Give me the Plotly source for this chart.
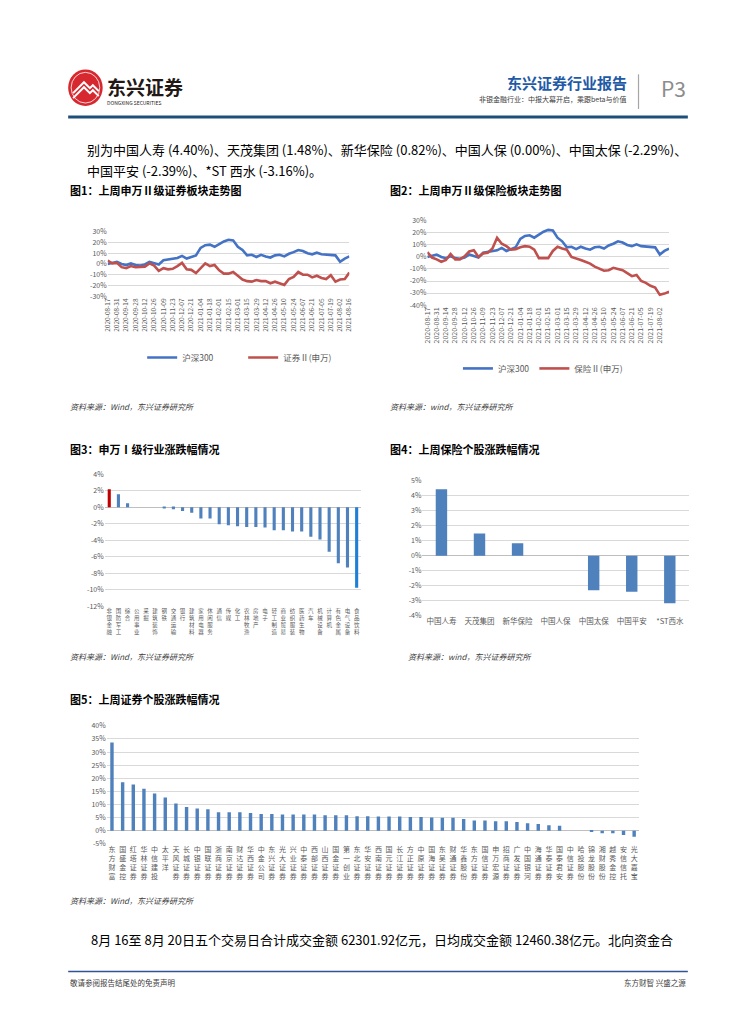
import plotly.graph_objects as go
import pandas as pd

W, H = 755, 1024
FONT = "Noto Sans CJK SC"
BLUE = "#4472C4"
RED = "#C0504D"
BAR = "#4F81BD"
GRID = "#D9D9D9"
TICK = "#595959"

# ---------------- data ----------------
# weekly closes, cumulative change (%) since 2020-08-17
hs300 = [0, 1, 2, 0, -1, 0.5, -1, -1.5, -0.5, 2,
         1, -0.5, 3.5, 4, 5, 5.5, 7.5, 5, 6.5, 8,
         15, 17.5, 18, 16, 18.5, 21, 22.5, 22, 16, 13,
         8, 8.5, 6.5, 8.5, 7, 6, 8, 8.5, 7, 9.5,
         11, 13, 12, 10, 9, 10.5, 9, 8.5, 8.5, 8,
         2, 5, 7]
sec2 = [3, 0.5, 1, -3, -4, -2, -3, -3, -2.5, 0.5,
        -1.5, -6.5, -4, -5, -4.5, -2, 1, -5, -5.5, -8.5,
        -4, 0.5, -2, -1, -6, -9, -9, -7.5, -11, -14.5,
        -16, -16.5, -15, -16, -16, -18, -16.5, -18, -19.5, -14,
        -12, -7.5, -10, -10, -12.5, -11, -13, -14, -10.5, -16.5,
        -14.5, -14, -8]
ins2 = [4, -0.5, -2, -4, -2.5, 2.5, -2, -2, 0.5, 4.5,
        5.5, 0, 3, 3.5, 7, 16, 11, 9, 6, 6.5,
        8, 9, 8.5, 6, -1, -1, -1, 5, 8.5, 7,
        6, 0, -1, -2.5, -4, -5.5, -8, -10, -11.5, -11,
        -9, -10, -11, -13.5, -16, -15, -20, -21.5, -24, -25.5,
        -31.5, -30.5, -29]
dates = pd.date_range("2020-08-17", periods=len(hs300), freq="7D")
tick_dates1 = [d.strftime("%Y-%m-%d") for d in pd.date_range("2020-08-17", "2021-08-16", freq="14D")]
tick_dates2 = tick_dates1[:26]

ind_names = ["非银金融", "国防军工", "综合", "公用事业", "采掘", "建筑装饰", "钢铁",
             "交通运输", "银行", "建筑材料", "家用电器", "休闲服务", "通信", "传媒",
             "化工", "农林牧渔", "房地产", "电子", "轻工制造", "商业贸易", "纺织服装",
             "医药生物", "汽车", "机械设备", "计算机", "有色金属", "电气设备", "食品饮料"]
ind_chg = [2.2, 1.6, 0.5, 0.0, 0.0, 0.0, -0.12, -0.24, -0.44, -0.65, -1.37, -1.37,
           -2.06, -2.18, -2.3, -2.38, -2.38, -2.46, -2.78, -2.78, -2.94, -2.94,
           -3.59, -3.9, -5.4, -6.8, -7.3, -9.76]

ins_names = ["中国人寿", "天茂集团", "新华保险", "中国人保", "中国太保", "中国平安", "*ST西水"]
ins_chg = [4.40, 1.48, 0.82, 0.00, -2.29, -2.39, -3.16]

sec_names = ["东方财富", "国盛金控", "红塔证券", "华林证券", "中信建投", "太平洋", "天风证券",
             "长城证券", "中银证券", "国联证券", "浙商证券", "南京证券", "财达证券", "华西证券",
             "中金公司", "东兴证券", "光大证券", "兴业证券", "中泰证券", "西部证券", "山西证券",
             "国金证券", "第一创业", "东北证券", "华安证券", "西南证券", "国元证券", "长江证券",
             "方正证券", "中原证券", "国海证券", "东吴证券", "财通证券", "华鑫股份", "东方证券",
             "国信证券", "申万宏源", "招商证券", "广发证券", "中国银河", "海通证券", "华泰证券",
             "国泰君安", "中信证券", "哈投股份", "锦龙股份", "湘财股份", "越秀金控", "安信信托",
             "光大嘉宝"]
sec_chg = [33.7, 18.5, 17.6, 16.0, 14.2, 12.7, 10.4, 9.0, 8.5, 8.2,
           7.0, 7.0, 7.0, 6.7, 6.4, 6.4, 6.2, 6.2, 6.2, 6.2,
           5.9, 5.9, 5.9, 5.5, 5.5, 5.4, 5.4, 5.4, 5.2, 5.2,
           5.0, 4.9, 4.9, 4.4, 3.9, 3.9, 3.6, 3.6, 3.3, 2.8,
           2.5, 2.1, 1.9, 0.0, 0.0, -0.4, -1.0, -1.0, -1.7, -2.3]


# ---------------- helpers ----------------
def fx(px):
    return px / W


def fy(py):
    return 1 - py / H


def dom_x(a, b):
    return [fx(a), fx(b)]


def dom_y(top, bottom):
    return [fy(bottom), fy(top)]


def stack(s):
    return "<br>".join(list(s))


def pct_ticks(lo, hi, step):
    vals = list(range(lo, hi + 1, step))
    return vals, [f"{v}%" for v in vals]


fig = go.Figure()

# chart 1
fig.add_trace(go.Scatter(x=dates, y=hs300, mode="lines", name="沪深300",
                         line=dict(color=BLUE, width=2.6), xaxis="x", yaxis="y", legend="legend"))
fig.add_trace(go.Scatter(x=dates, y=sec2, mode="lines", name="证券Ⅱ(申万)",
                         line=dict(color=RED, width=2.6), xaxis="x", yaxis="y", legend="legend"))
# chart 2
fig.add_trace(go.Scatter(x=dates, y=hs300, mode="lines", name="沪深300",
                         line=dict(color=BLUE, width=2.6), xaxis="x2", yaxis="y2", legend="legend2"))
fig.add_trace(go.Scatter(x=dates, y=ins2, mode="lines", name="保险Ⅱ(申万)",
                         line=dict(color=RED, width=2.6), xaxis="x2", yaxis="y2", legend="legend2"))
# chart 3
c3 = [BAR] * len(ind_chg)
c3[0] = "#C00000"
c3[-1] = "#1F7FD6"
fig.add_trace(go.Bar(x=ind_names, y=ind_chg, marker=dict(color=c3, line=dict(width=0)),
                     width=0.34, xaxis="x3", yaxis="y3", showlegend=False))
# chart 4
fig.add_trace(go.Bar(x=ins_names, y=ins_chg, marker=dict(color=BAR, line=dict(width=0)),
                     width=0.3, xaxis="x4", yaxis="y4", showlegend=False))
# chart 5
fig.add_trace(go.Bar(x=sec_names, y=sec_chg, marker=dict(color=BAR, line=dict(width=0)),
                     width=0.32, xaxis="x5", yaxis="y5", showlegend=False))

yt1 = pct_ticks(-30, 30, 10)
yt2 = pct_ticks(-40, 30, 10)
yt3 = pct_ticks(-12, 4, 2)
yt4 = pct_ticks(-4, 5, 1)
yt5 = pct_ticks(-5, 40, 5)


def yax(dom, anchor, rng, ticks, size=7):
    return dict(domain=dom, anchor=anchor, range=rng, tickvals=ticks[0], ticktext=ticks[1],
                showgrid=True, gridcolor=GRID, gridwidth=1, zeroline=False, showline=False,
                tickfont=dict(size=size, color=TICK), ticks="", fixedrange=True)


fig.update_layout(
    width=W, height=H, margin=dict(l=0, r=0, t=0, b=0),
    paper_bgcolor="white", plot_bgcolor="white",
    font=dict(family=FONT, color="#000000"),
    xaxis=dict(domain=dom_x(103, 348), anchor="y", type="date",
               range=["2020-08-17", "2021-08-16"], tickvals=tick_dates1, ticktext=tick_dates1,
               tickangle=-90, tickfont=dict(size=6.5, color=TICK), showgrid=False, showline=False,
               zeroline=False, ticks=""),
    yaxis=yax(dom_y(228, 293), "x", [-30, 30], yt1),
    xaxis2=dict(domain=dom_x(427, 672), anchor="y2", type="date",
                range=["2020-08-17", "2021-08-16"], tickvals=tick_dates2, ticktext=tick_dates2,
                tickangle=-90, tickfont=dict(size=7, color=TICK), showgrid=False, showline=False,
                zeroline=False, ticks=""),
    yaxis2=yax(dom_y(217, 302), "x2", [-40, 30], yt2),
    xaxis3=dict(domain=dom_x(100, 360), anchor="y3", type="category",
                tickvals=ind_names, ticktext=[stack(n) for n in ind_names], tickangle=0,
                tickfont=dict(size=5.5, color=TICK), showgrid=False, showline=False, ticks=""),
    yaxis3=dict(yax(dom_y(473, 606), "x3", [-12, 4], yt3), zeroline=True,
                zerolinecolor="#BFBFBF", zerolinewidth=1),
    xaxis4=dict(domain=dom_x(422, 692), anchor="y4", type="category",
                tickfont=dict(size=7.5, color=TICK), showgrid=False, showline=False, ticks="",
                tickangle=0),
    yaxis4=dict(yax(dom_y(479, 616), "x4", [-4, 5], yt4), zeroline=True,
                zerolinecolor="#BFBFBF", zerolinewidth=1),
    xaxis5=dict(domain=dom_x(102, 642), anchor="y5", type="category",
                tickvals=sec_names, ticktext=[stack(n) for n in sec_names], tickangle=0,
                tickfont=dict(size=7, color=TICK), showgrid=False, showline=False, ticks=""),
    yaxis5=dict(yax(dom_y(727, 846), "x5", [-5, 40], yt5), zeroline=True,
                zerolinecolor="#BFBFBF", zerolinewidth=1),
    legend=dict(orientation="h", x=fx(138), y=fy(355), xanchor="left", yanchor="middle",
                font=dict(size=8.5, color=TICK), bgcolor="rgba(0,0,0,0)", entrywidth=56,
                itemwidth=30, tracegroupgap=0),
    legend2=dict(orientation="h", x=fx(458), y=fy(366), xanchor="left", yanchor="middle",
                 font=dict(size=8.5, color=TICK), bgcolor="rgba(0,0,0,0)",
                 itemwidth=30, tracegroupgap=0),
)

# ---------------- page texts ----------------
anns = []


def txt(x, y, s, size, color="#000000", anchor="left"):
    anns.append(dict(x=fx(x), y=fy(y), xref="paper", yref="paper", text=s, showarrow=False,
                     xanchor=anchor, yanchor="middle", font=dict(size=size, color=color, family=FONT)))


txt(100, 81, "<b>东兴证券</b>", 19, "#231815")
txt(100, 97, "DONGXING SECURITIES", 5, "#231815")
txt(631, 77, "<b>东兴证券行业报告</b>", 15, "#1F5AA6", "right")
txt(631, 94, "非银金融行业：中报大幕开启，乘跟beta与价值", 7, "#404040", "right")
txt(662, 83, "P3", 21, "#8C8C8C")

txt(80, 145, "别为中国人寿 (4.40%)、天茂集团 (1.48%)、新华保险 (0.82%)、中国人保 (0.00%)、中国太保 (-2.29%)、", 13)
txt(80, 166, "中国平安 (-2.39%)、*ST 西水 (-3.16%)。", 13)

txt(63, 186, "<b>图1：上周申万Ⅱ级证券板块走势图</b>", 11)
txt(387, 186, "<b>图2：上周申万Ⅱ级保险板块走势图</b>", 11)
txt(63, 404, "<i>资料来源：Wind，东兴证券研究所</i>", 8, "#404040")
txt(387, 404, "<i>资料来源：wind，东兴证券研究所</i>", 8, "#404040")

txt(63, 447, "<b>图3：申万Ⅰ级行业涨跌幅情况</b>", 11)
txt(387, 447, "<b>图4：上周保险个股涨跌幅情况</b>", 11)
txt(63, 657, "<i>资料来源：Wind，东兴证券研究所</i>", 8, "#404040")
txt(405, 657, "<i>资料来源：wind，东兴证券研究所</i>", 8, "#404040")

txt(63, 700, "<b>图5：上周证券个股涨跌幅情况</b>", 11)
txt(63, 903, "<i>资料来源：Wind，东兴证券研究所</i>", 8, "#404040")

txt(84, 943, "8月 16至 8月 20日五个交易日合计成交金额 62301.92亿元，日均成交金额 12460.38亿元。北向资金合", 13)

txt(63, 986, "敬请参阅报告结尾处的免责声明", 7.5, "#404040")
txt(691, 986, "东方财智 兴盛之源", 7.5, "#404040", "right")

fig.update_layout(annotations=anns)

# ---------------- decorative shapes ----------------
shapes = []


def line(x0, y0, x1, y1, color, width):
    shapes.append(dict(type="line", xref="paper", yref="paper", x0=fx(x0), y0=fy(y0),
                       x1=fx(x1), y1=fy(y1), line=dict(color=color, width=width)))


line(63, 112, 691, 112, "#1F4E79", 3)
line(641, 69, 641, 104, "#A6A6A6", 1.2)
line(63, 975, 691, 975, "#2F5597", 1.5)

# logo: red disc with white roof strokes
shapes.append(dict(type="circle", xref="paper", yref="paper", x0=fx(63), y0=fy(101),
                   x1=fx(98), y1=fy(64), fillcolor="#D7282F", line=dict(width=0)))
for dy in (0, 5):
    shapes.append(dict(type="path", xref="paper", yref="paper",
                       path=f"M {fx(68)},{fy(88 + dy)} L {fx(79)},{fy(77 + dy)} L {fx(85)},{fy(83 + dy)} "
                            f"L {fx(88)},{fy(80 + dy)} L {fx(94)},{fy(86 + dy)}",
                       line=dict(color="white", width=2)))
shapes.append(dict(type="circle", xref="paper", yref="paper", x0=fx(66), y0=fy(98),
                   x1=fx(95), y1=fy(67), line=dict(color="white", width=0.8)))

fig.update_layout(shapes=shapes)

fig.write_html("out.html", config={"displayModeBar": False},
               post_script="document.body.style.margin='0';document.body.style.padding='0';")
